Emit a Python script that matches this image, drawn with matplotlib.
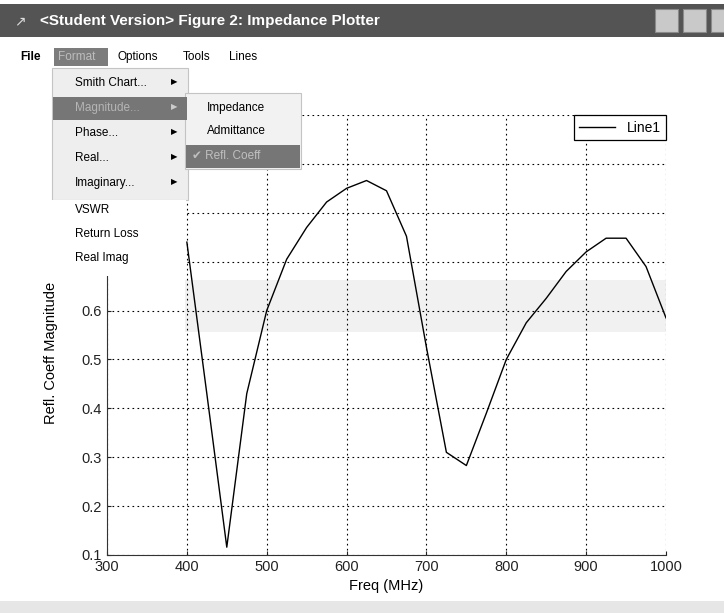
import matplotlib
matplotlib.use("Agg")
import matplotlib.pyplot as plt
from matplotlib.patches import Rectangle

# data
freq_mhz = [400, 425, 450, 475, 500, 525, 550, 575, 600, 625, 650, 675, 700,
            725, 750, 775, 800, 825, 850, 875, 900, 925, 950, 975, 1000]
refl_mag = [0.74, 0.43, 0.116, 0.43, 0.60, 0.705, 0.77, 0.822, 0.85, 0.866, 0.845, 0.752, 0.525,
            0.31, 0.283, 0.39, 0.50, 0.575, 0.625, 0.68, 0.72, 0.748, 0.748, 0.69, 0.585]
x_ticks = [300, 400, 500, 600, 700, 800, 900, 1000]
y_ticks = [0.1, 0.2, 0.3, 0.4, 0.5, 0.6, 0.7, 0.8, 0.9, 1.0]
# labels above 0.6 sit under the menus in the screenshot
y_labels = ["0.1", "0.2", "0.3", "0.4", "0.5", "0.6", "", "", "", ""]

menu_bar = ["Options", "Tools", "Lines"]
format_items = ["Smith Chart...", "Magnitude...", "Phase...", "Real...", "Imaginary..."]
extra_items = ["VSWR", "Return Loss", "Real Imag"]
sub_items = ["Impedance", "Admittance", "\u2714 Refl. Coeff"]

plt.rcParams["font.family"] = ["Liberation Sans", "DejaVu Sans"]

W, H = 724, 613
fig = plt.figure(figsize=(W / 100, H / 100), dpi=100, facecolor="white")


def fx(x):
    return x / W


def fy(y):
    return 1 - y / H


def box(x0, y0, x1, y1, fc, ec="none", z=5, lw=0.8):
    r = Rectangle((fx(x0), fy(y1)), fx(x1) - fx(x0), fy(y0) - fy(y1),
                  transform=fig.transFigure, facecolor=fc, edgecolor=ec, lw=lw, zorder=z)
    fig.add_artist(r)


def label(x, y, s, z=6, **kw):
    fig.text(fx(x), fy(y), s, va="center", zorder=z, **kw)


# --- axes ---
ax = fig.add_axes([fx(107), fy(555), fx(666) - fx(107), fy(115) - fy(555)])
ax.plot(freq_mhz, refl_mag, color="black", lw=1.0, label="Line1", zorder=3)
ax.set_xlim(300, 1000)
ax.set_ylim(0.1, 1.0)
ax.set_xticks(x_ticks)
ax.set_yticks(y_ticks)
ax.set_yticklabels(y_labels)
ax.grid(True, color="black", linestyle=(0, (1.5, 3)), lw=0.8)
ax.spines["top"].set_visible(False)
ax.spines["right"].set_visible(False)
ax.spines["left"].set_color("#333333")
ax.spines["bottom"].set_color("#333333")
ax.tick_params(direction="in", length=3, labelsize=10.5, colors="#222222")
ax.set_xlabel("Freq (MHz)", fontsize=10.5, labelpad=4)
ax.set_ylabel("Refl. Coeff Magnitude", fontsize=10.5)
ax.yaxis.set_label_coords(-0.088, 0.46)
# faint scan band
ax.axhspan(0.557, 0.663, xmin=0.14, xmax=1.0, color="#f1f1f1", zorder=0, lw=0)
leg = ax.legend(loc="upper right", borderaxespad=0, fancybox=False, fontsize=10,
                handlelength=2.6, borderpad=0.4, framealpha=1)
leg.get_frame().set_edgecolor("black")
leg.get_frame().set_linewidth(0.9)

# --- window chrome ---
box(0, 4, W, 37, "#545454", z=5)
label(40, 21, "<Student Version> Figure 2: Impedance Plotter", color="white",
      fontsize=11, fontweight="bold")
label(14, 21, "\u2197", color="#dddddd", fontsize=10)
for bx in [655, 683, 711]:
    box(bx, 9, bx + 23, 32, "#c9c9c9", ec="#8a8a8a", z=6)
box(0, 601, W, H, "#e6e6e6", z=5)

# menu bar
label(20, 57, "File", color="black", fontsize=8.5, fontweight="bold")
box(54, 48, 108, 66, "#7c7c7c", z=5)
label(58, 57, "Format", color="#bdbdbd", fontsize=8.5)
for mx, s in zip([118, 183, 229], menu_bar):
    label(mx, 57, s, color="black", fontsize=8.5)

# format dropdown
box(52, 68, 188, 200, "#eeeeee", ec="#c4c4c4", z=7)
for i, s in enumerate(format_items):
    yy = 83 + i * 25
    if i == 1:
        box(53, 97, 187, 120, "#767676", z=8)
        label(75, yy, s, z=9, color="#b5b5b5", fontsize=8.5)
        label(171, yy, "\u25b6", z=9, color="#cccccc", fontsize=6)
    else:
        label(75, yy, s, z=9, color="black", fontsize=8.5)
        label(171, yy, "\u25b6", z=9, color="black", fontsize=6)

# white block with the plain items
box(40, 200, 186, 276, "white", z=7)
for i, s in enumerate(extra_items):
    label(75, 210 + i * 24, s, z=9, color="black", fontsize=8.5)

# submenu
box(185, 93, 301, 169, "#f2f2f2", ec="#c4c4c4", z=7)
box(186, 145, 300, 168, "#767676", z=8)
label(207, 108, sub_items[0], z=9, color="black", fontsize=8.5)
label(207, 131, sub_items[1], z=9, color="black", fontsize=8.5)
label(192, 156, sub_items[2], z=9, color="#c0c0c0", fontsize=8.5)

fig.savefig("out.png", dpi=100, facecolor="white")
